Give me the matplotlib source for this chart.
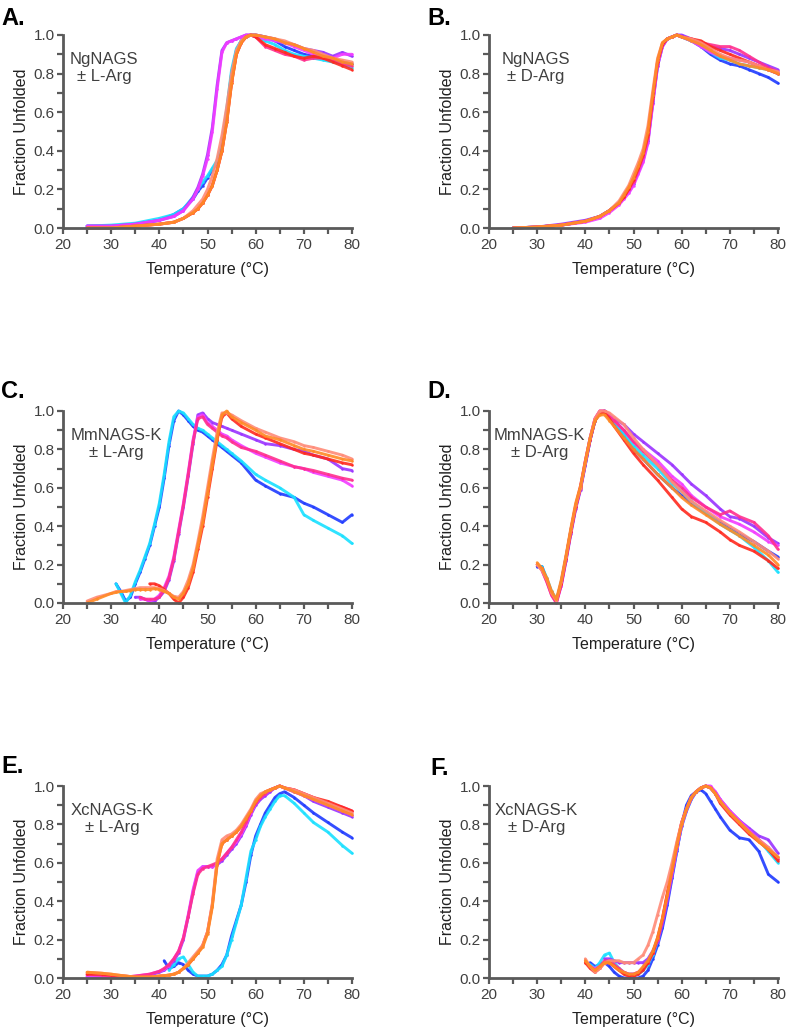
import numpy as np
import matplotlib
matplotlib.use("Agg")
import matplotlib.pyplot as plt
from matplotlib.ticker import MultipleLocator, FormatStrFormatter

plt.rcParams['font.family'] = ['Liberation Sans', 'DejaVu Sans']

nan = float('nan')

# series colours (same order in every panel)
names = ['blue', 'cyan', 'purple', 'magenta', 'pink', 'red', 'salmon', 'orange']
colors = ['#1f3bff', '#19e0ff', '#9a33ff', '#f23cff', '#ff2f8e', '#ff2a1f', '#ff8b78', '#ff8a26']

# ---- panel A / B : NgNAGS ----
t_ab = [25, 30, 35, 40, 43, 45, 47, 48, 49, 50, 51, 52, 53, 54, 55, 56, 57, 58, 59, 60,
        62, 64, 66, 68, 70, 72, 74, 76, 78, 80]

a_blue = [0.01, 0.01, 0.02, 0.04, 0.07, 0.10, 0.15, 0.19, 0.22, 0.26, 0.30, 0.34, 0.42, 0.60, 0.80,
          0.92, 0.97, 0.99, 1.00, 1.00, 0.99, 0.97, 0.94, 0.92, 0.90, 0.89, 0.88, 0.87, 0.86, 0.85]
a_cyan = [0.01, 0.015, 0.025, 0.05, 0.07, 0.10, 0.16, 0.20, 0.24, 0.27, 0.31, 0.35, 0.43, 0.62, 0.82,
          0.93, 0.97, 0.99, 1.00, 0.99, 0.97, 0.95, 0.92, 0.90, 0.89, 0.88, 0.87, 0.86, 0.85, 0.83]
a_purple = [0.01, 0.01, 0.02, 0.04, 0.06, 0.09, 0.16, 0.21, 0.28, 0.38, 0.52, 0.74, 0.92, 0.96, 0.97,
            0.98, 0.99, 1.00, 1.00, 1.00, 0.99, 0.98, 0.96, 0.95, 0.93, 0.92, 0.91, 0.89, 0.91, 0.89]
a_magenta = [0.01, 0.01, 0.02, 0.04, 0.06, 0.09, 0.15, 0.20, 0.27, 0.36, 0.50, 0.72, 0.91, 0.96, 0.97,
             0.98, 0.99, 1.00, 1.00, 0.99, 0.98, 0.97, 0.96, 0.94, 0.92, 0.90, 0.89, 0.88, 0.90, 0.90]
a_pink = [0.00, 0.00, 0.01, 0.02, 0.03, 0.05, 0.08, 0.10, 0.13, 0.17, 0.22, 0.30, 0.40, 0.56, 0.76,
          0.90, 0.96, 0.99, 1.00, 0.99, 0.94, 0.92, 0.90, 0.89, 0.87, 0.88, 0.88, 0.87, 0.85, 0.84]
a_red = [0.00, 0.00, 0.01, 0.02, 0.03, 0.05, 0.08, 0.10, 0.13, 0.17, 0.22, 0.30, 0.40, 0.55, 0.75,
         0.90, 0.96, 0.99, 1.00, 0.99, 0.95, 0.93, 0.91, 0.89, 0.88, 0.89, 0.88, 0.86, 0.84, 0.82]
a_salmon = [0.00, 0.00, 0.01, 0.02, 0.03, 0.05, 0.09, 0.12, 0.15, 0.20, 0.27, 0.36, 0.48, 0.63, 0.80,
            0.92, 0.97, 0.99, 1.00, 1.00, 0.99, 0.98, 0.97, 0.95, 0.93, 0.92, 0.90, 0.88, 0.87, 0.86]
a_orange = [0.00, 0.00, 0.01, 0.02, 0.03, 0.05, 0.08, 0.10, 0.13, 0.17, 0.22, 0.30, 0.40, 0.55, 0.75,
            0.90, 0.96, 0.99, 1.00, 1.00, 0.99, 0.98, 0.96, 0.95, 0.93, 0.91, 0.89, 0.88, 0.86, 0.85]

b_blue = [0.00, 0.005, 0.015, 0.035, 0.06, 0.09, 0.13, 0.16, 0.19, 0.23, 0.29, 0.35, 0.45, 0.65, 0.84,
          0.94, 0.98, 0.99, 1.00, 0.99, 0.97, 0.94, 0.90, 0.87, 0.85, 0.84, 0.82, 0.80, 0.78, 0.75]
b_cyan = [0.00, 0.005, 0.015, 0.035, 0.06, 0.09, 0.13, 0.16, 0.20, 0.24, 0.30, 0.36, 0.46, 0.66, 0.85,
          0.95, 0.98, 0.99, 1.00, 0.99, 0.97, 0.95, 0.91, 0.88, 0.87, 0.85, 0.84, 0.83, 0.82, 0.80]
b_purple = [0.00, 0.005, 0.02, 0.04, 0.06, 0.09, 0.13, 0.16, 0.20, 0.24, 0.30, 0.36, 0.46, 0.66, 0.85,
            0.95, 0.98, 0.99, 1.00, 1.00, 0.98, 0.96, 0.94, 0.93, 0.92, 0.90, 0.88, 0.86, 0.84, 0.82]
b_magenta = [0.00, 0.005, 0.015, 0.03, 0.05, 0.08, 0.12, 0.15, 0.18, 0.22, 0.28, 0.34, 0.44, 0.64, 0.84,
             0.94, 0.98, 0.99, 1.00, 0.99, 0.97, 0.94, 0.91, 0.89, 0.88, 0.87, 0.86, 0.84, 0.82, 0.80]
b_pink = [0.00, 0.005, 0.015, 0.035, 0.06, 0.09, 0.13, 0.16, 0.20, 0.24, 0.30, 0.37, 0.47, 0.67, 0.86,
          0.95, 0.98, 0.99, 1.00, 0.99, 0.98, 0.96, 0.95, 0.94, 0.94, 0.92, 0.89, 0.86, 0.83, 0.81]
b_red = [0.00, 0.005, 0.015, 0.035, 0.06, 0.09, 0.13, 0.16, 0.20, 0.25, 0.31, 0.38, 0.48, 0.68, 0.86,
         0.95, 0.98, 0.99, 1.00, 0.99, 0.98, 0.97, 0.94, 0.92, 0.90, 0.88, 0.86, 0.84, 0.82, 0.80]
b_salmon = [0.00, 0.005, 0.015, 0.035, 0.06, 0.09, 0.14, 0.18, 0.22, 0.28, 0.34, 0.41, 0.53, 0.71, 0.88,
            0.96, 0.98, 0.99, 1.00, 0.99, 0.98, 0.96, 0.93, 0.90, 0.88, 0.87, 0.86, 0.84, 0.82, 0.81]
b_orange = [0.00, 0.005, 0.015, 0.035, 0.06, 0.09, 0.13, 0.17, 0.21, 0.26, 0.32, 0.39, 0.50, 0.69, 0.87,
            0.96, 0.98, 0.99, 1.00, 0.99, 0.97, 0.95, 0.92, 0.89, 0.87, 0.85, 0.84, 0.83, 0.82, 0.80]

# ---- panel C : MmNAGS-K +/- L-Arg ----
t_c = [25, 27, 30, 31, 32, 33, 34, 35, 36, 37, 38, 39, 40, 41, 42, 43, 44, 45, 46, 47, 48, 49, 50,
       51, 52, 53, 54, 55, 57, 60, 62, 65, 68, 70, 72, 75, 78, 80]

c_blue = [nan, nan, nan, 0.10, 0.06, 0.01, 0.03, 0.10, 0.16, 0.23, 0.30, 0.40, 0.50, 0.65, 0.82, 0.95,
          1.00, 0.98, 0.95, 0.92, 0.90, 0.89, 0.87, 0.85, 0.83, 0.81, 0.79, 0.77, 0.73, 0.64, 0.61,
          0.57, 0.55, 0.52, 0.50, 0.46, 0.42, 0.46]
c_cyan = [nan, nan, nan, 0.10, 0.05, 0.00, 0.04, 0.11, 0.17, 0.24, 0.31, 0.41, 0.52, 0.67, 0.84, 0.97,
          1.00, 0.99, 0.96, 0.93, 0.91, 0.90, 0.88, 0.86, 0.84, 0.82, 0.80, 0.78, 0.74, 0.67, 0.64,
          0.60, 0.55, 0.46, 0.43, 0.39, 0.35, 0.31]
c_purple = [nan, nan, nan, nan, nan, nan, nan, 0.03, 0.03, 0.02, 0.01, 0.01, 0.03, 0.06, 0.12, 0.22,
            0.36, 0.50, 0.66, 0.83, 0.98, 0.99, 0.96, 0.94, 0.93, 0.92, 0.91, 0.90, 0.88, 0.85, 0.83,
            0.82, 0.80, 0.79, 0.77, 0.75, 0.70, 0.69]
c_magenta = [nan, nan, nan, nan, nan, nan, nan, nan, 0.02, 0.02, 0.01, 0.02, 0.04, 0.08, 0.14, 0.24,
             0.38, 0.52, 0.68, 0.85, 0.97, 0.98, 0.94, 0.92, 0.90, 0.88, 0.87, 0.85, 0.82, 0.78, 0.76,
             0.73, 0.71, 0.70, 0.68, 0.66, 0.64, 0.61]
c_pink = [nan, nan, nan, nan, nan, nan, nan, nan, 0.03, 0.02, 0.02, 0.02, 0.03, 0.07, 0.13, 0.23,
          0.37, 0.51, 0.67, 0.84, 0.96, 0.97, 0.93, 0.91, 0.89, 0.87, 0.86, 0.84, 0.81, 0.79, 0.77,
          0.74, 0.71, 0.70, 0.69, 0.67, 0.65, 0.64]
c_red = [nan, nan, nan, nan, nan, nan, nan, nan, nan, nan, 0.10, 0.10, 0.09, 0.07, 0.05, 0.02,
         0.00, 0.03, 0.08, 0.16, 0.28, 0.40, 0.55, 0.70, 0.85, 0.97, 0.99, 0.96, 0.92, 0.88, 0.86,
         0.83, 0.80, 0.78, 0.77, 0.75, 0.73, 0.72]
c_salmon = [0.01, 0.03, 0.05, 0.06, 0.06, 0.065, 0.07, 0.075, 0.08, 0.08, 0.08, 0.08, 0.075, 0.065,
            0.05, 0.035, 0.03, 0.06, 0.12, 0.20, 0.32, 0.45, 0.60, 0.75, 0.89, 0.99, 0.99, 0.98, 0.95,
            0.91, 0.89, 0.86, 0.84, 0.82, 0.81, 0.79, 0.77, 0.75]
c_orange = [0.00, 0.02, 0.05, 0.055, 0.06, 0.06, 0.065, 0.07, 0.07, 0.07, 0.07, 0.075, 0.07, 0.06,
            0.05, 0.03, 0.02, 0.05, 0.10, 0.18, 0.30, 0.42, 0.57, 0.72, 0.86, 0.98, 1.00, 0.97, 0.94,
            0.90, 0.87, 0.85, 0.82, 0.80, 0.79, 0.77, 0.75, 0.74]

# ---- panel D : MmNAGS-K +/- D-Arg ----
t_d = [30, 31, 32, 33, 34, 35, 36, 37, 38, 39, 40, 41, 42, 43, 44, 45, 46, 48, 50, 52, 55, 58, 60,
       62, 65, 68, 70, 72, 75, 78, 80]

d_blue = [0.19, 0.19, 0.12, 0.05, 0.01, 0.11, 0.24, 0.38, 0.50, 0.60, 0.72, 0.85, 0.95, 0.99, 1.00,
          0.97, 0.93, 0.87, 0.80, 0.75, 0.67, 0.60, 0.56, 0.52, 0.47, 0.42, 0.39, 0.36, 0.32, 0.27, 0.24]
d_cyan = [nan, 0.19, 0.13, 0.06, 0.02, 0.10, 0.23, 0.37, 0.50, 0.60, 0.73, 0.86, 0.95, 0.99, 1.00,
          0.97, 0.94, 0.88, 0.82, 0.77, 0.70, 0.62, 0.58, 0.53, 0.47, 0.41, 0.38, 0.35, 0.29, 0.22, 0.16]
d_purple = [nan, 0.18, 0.12, 0.05, 0.01, 0.09, 0.22, 0.36, 0.49, 0.59, 0.72, 0.85, 0.95, 0.99, 1.00,
            0.98, 0.96, 0.93, 0.88, 0.84, 0.78, 0.72, 0.67, 0.62, 0.56, 0.49, 0.45, 0.44, 0.40, 0.34, 0.31]
d_magenta = [nan, 0.17, 0.11, 0.04, 0.00, 0.09, 0.23, 0.37, 0.50, 0.60, 0.74, 0.86, 0.96, 1.00, 1.00,
             0.98, 0.95, 0.90, 0.84, 0.80, 0.74, 0.66, 0.62, 0.56, 0.50, 0.45, 0.43, 0.41, 0.37, 0.32, 0.30]
d_pink = [0.20, 0.17, 0.11, 0.04, 0.00, 0.10, 0.24, 0.38, 0.51, 0.61, 0.74, 0.86, 0.96, 1.00, 1.00,
          0.97, 0.95, 0.90, 0.84, 0.79, 0.72, 0.64, 0.60, 0.55, 0.50, 0.46, 0.48, 0.45, 0.42, 0.35, 0.28]
d_red = [0.20, 0.18, 0.12, 0.05, 0.01, 0.10, 0.23, 0.37, 0.50, 0.60, 0.73, 0.85, 0.95, 0.99, 0.99,
         0.96, 0.92, 0.85, 0.78, 0.72, 0.64, 0.55, 0.49, 0.45, 0.42, 0.37, 0.33, 0.30, 0.27, 0.22, 0.18]
d_salmon = [0.20, 0.17, 0.12, 0.05, 0.01, 0.11, 0.24, 0.38, 0.51, 0.60, 0.73, 0.86, 0.96, 1.00, 1.00,
            0.99, 0.97, 0.93, 0.86, 0.80, 0.72, 0.63, 0.58, 0.53, 0.48, 0.43, 0.40, 0.37, 0.32, 0.27, 0.23]
d_orange = [0.21, 0.18, 0.13, 0.06, 0.02, 0.12, 0.25, 0.39, 0.52, 0.61, 0.74, 0.86, 0.95, 0.98, 0.98,
            0.95, 0.92, 0.86, 0.80, 0.75, 0.67, 0.60, 0.55, 0.51, 0.46, 0.41, 0.38, 0.35, 0.30, 0.25, 0.20]

# ---- panel E : XcNAGS-K +/- L-Arg ----
t_e = [25, 28, 30, 33, 35, 38, 40, 41, 42, 43, 44, 45, 46, 47, 48, 49, 50, 51, 52, 53, 54, 55, 56,
       57, 58, 59, 60, 61, 62, 63, 64, 65, 66, 68, 70, 72, 75, 78, 80]

e_blue = [nan, nan, nan, nan, nan, nan, nan, 0.09, 0.05, 0.06, 0.08, 0.07, 0.04, 0.02, 0.01, 0.01,
          0.01, 0.02, 0.04, 0.07, 0.12, 0.22, 0.30, 0.38, 0.50, 0.64, 0.74, 0.80, 0.86, 0.90, 0.94,
          0.96, 0.97, 0.94, 0.90, 0.86, 0.81, 0.76, 0.73]
e_cyan = [nan, nan, nan, nan, nan, nan, nan, nan, 0.04, 0.07, 0.10, 0.11, 0.07, 0.03, 0.01, 0.01,
          0.01, 0.02, 0.04, 0.06, 0.12, 0.20, 0.29, 0.38, 0.52, 0.66, 0.72, 0.79, 0.84, 0.88, 0.92,
          0.95, 0.95, 0.91, 0.86, 0.81, 0.76, 0.69, 0.65]
e_purple = [0.01, 0.005, 0.005, 0.005, 0.005, 0.015, 0.03, 0.04, 0.06, 0.09, 0.13, 0.20, 0.32, 0.45,
            0.55, 0.58, 0.58, 0.58, 0.59, 0.61, 0.64, 0.67, 0.70, 0.74, 0.79, 0.85, 0.90, 0.93, 0.95,
            0.97, 0.99, 1.00, 0.99, 0.97, 0.95, 0.92, 0.89, 0.86, 0.84]
e_magenta = [0.01, 0.01, 0.005, 0.005, 0.01, 0.02, 0.035, 0.045, 0.065, 0.10, 0.14, 0.21, 0.33, 0.46,
             0.56, 0.58, 0.58, 0.58, 0.60, 0.62, 0.65, 0.68, 0.71, 0.75, 0.80, 0.86, 0.91, 0.94, 0.96,
             0.98, 0.99, 1.00, 0.99, 0.97, 0.95, 0.93, 0.90, 0.87, 0.85]
e_pink = [0.02, 0.015, 0.01, 0.005, 0.01, 0.02, 0.035, 0.05, 0.07, 0.10, 0.14, 0.21, 0.32, 0.44,
          0.54, 0.57, 0.58, 0.59, 0.60, 0.62, 0.65, 0.68, 0.72, 0.76, 0.81, 0.87, 0.91, 0.94, 0.96,
          0.98, 0.99, 1.00, 0.99, 0.98, 0.96, 0.94, 0.91, 0.89, 0.87]
e_red = [0.02, 0.02, 0.015, 0.01, 0.005, 0.005, 0.01, 0.012, 0.015, 0.02, 0.03, 0.05, 0.07, 0.10,
         0.13, 0.17, 0.24, 0.38, 0.60, 0.70, 0.72, 0.74, 0.76, 0.79, 0.83, 0.87, 0.92, 0.95, 0.97,
         0.98, 0.99, 1.00, 0.99, 0.98, 0.96, 0.94, 0.92, 0.89, 0.87]
e_salmon = [0.03, 0.025, 0.02, 0.01, 0.005, 0.005, 0.01, 0.012, 0.015, 0.02, 0.03, 0.05, 0.08, 0.11,
            0.14, 0.17, 0.24, 0.39, 0.62, 0.72, 0.74, 0.75, 0.77, 0.80, 0.84, 0.88, 0.93, 0.96, 0.97,
            0.98, 0.99, 1.00, 0.99, 0.98, 0.96, 0.94, 0.91, 0.88, 0.86]
e_orange = [0.03, 0.025, 0.02, 0.01, 0.005, 0.005, 0.01, 0.012, 0.015, 0.02, 0.03, 0.05, 0.07, 0.10,
            0.13, 0.16, 0.23, 0.37, 0.59, 0.70, 0.72, 0.74, 0.76, 0.79, 0.83, 0.87, 0.92, 0.95, 0.97,
            0.98, 0.99, 1.00, 0.99, 0.97, 0.95, 0.93, 0.90, 0.87, 0.85]

# ---- panel F : XcNAGS-K +/- D-Arg ----
t_f = [40, 41, 42, 43, 44, 45, 46, 47, 48, 49, 50, 51, 52, 53, 54, 55, 56, 57, 58, 59, 60, 61, 62,
       63, 64, 65, 66, 67, 68, 70, 72, 74, 76, 78, 80]

f_blue = [nan, 0.08, 0.06, 0.07, 0.08, 0.06, 0.03, 0.01, 0.00, 0.00, 0.00, 0.00, 0.01, 0.04, 0.10,
          0.17, 0.26, 0.38, 0.52, 0.66, 0.80, 0.90, 0.95, 0.97, 0.98, 0.96, 0.92, 0.88, 0.84, 0.77,
          0.73, 0.72, 0.66, 0.54, 0.50]
f_cyan = [nan, 0.07, 0.05, 0.08, 0.12, 0.13, 0.08, 0.05, 0.03, 0.02, 0.02, 0.02, 0.04, 0.07, 0.12,
          0.19, 0.29, 0.41, 0.54, 0.67, 0.79, 0.87, 0.93, 0.97, 0.99, 1.00, 0.99, 0.96, 0.92, 0.86,
          0.82, 0.77, 0.72, 0.66, 0.60]
f_purple = [nan, nan, nan, nan, 0.10, 0.10, 0.09, 0.08, 0.08, 0.08, 0.08, 0.08, 0.08, 0.10, 0.14,
            0.19, 0.28, 0.40, 0.53, 0.67, 0.79, 0.87, 0.93, 0.97, 0.99, 1.00, 0.99, 0.97, 0.93, 0.87,
            0.82, 0.78, 0.74, 0.72, 0.65]
f_magenta = [nan, 0.06, 0.05, 0.06, 0.08, 0.08, 0.06, 0.04, 0.03, 0.02, 0.02, 0.03, 0.05, 0.08, 0.13,
             0.20, 0.30, 0.42, 0.55, 0.68, 0.80, 0.88, 0.94, 0.97, 0.99, 1.00, 1.00, 0.97, 0.93, 0.87,
             0.82, 0.77, 0.72, 0.68, 0.62]
f_pink = [0.09, 0.06, 0.04, 0.06, 0.09, 0.09, 0.07, 0.05, 0.03, 0.02, 0.02, 0.03, 0.05, 0.08, 0.13,
          0.20, 0.30, 0.43, 0.56, 0.69, 0.81, 0.88, 0.94, 0.97, 0.99, 1.00, 0.99, 0.96, 0.92, 0.86,
          0.81, 0.76, 0.72, 0.67, 0.62]
f_red = [0.08, 0.05, 0.03, 0.05, 0.08, 0.08, 0.06, 0.04, 0.02, 0.01, 0.01, 0.02, 0.04, 0.08, 0.13,
         0.21, 0.31, 0.44, 0.57, 0.70, 0.81, 0.88, 0.94, 0.97, 0.99, 1.00, 0.99, 0.96, 0.91, 0.85,
         0.80, 0.75, 0.71, 0.67, 0.61]
f_salmon = [0.10, 0.06, 0.03, 0.05, 0.08, 0.09, 0.09, 0.09, 0.08, 0.08, 0.08, 0.10, 0.12, 0.17, 0.24,
            0.33, 0.42, 0.50, 0.60, 0.71, 0.81, 0.88, 0.94, 0.97, 0.99, 1.00, 0.99, 0.96, 0.92, 0.86,
            0.81, 0.76, 0.72, 0.68, 0.63]
f_orange = [0.09, 0.06, 0.04, 0.06, 0.08, 0.08, 0.06, 0.04, 0.03, 0.02, 0.02, 0.03, 0.06, 0.09, 0.14,
            0.21, 0.31, 0.43, 0.56, 0.69, 0.80, 0.88, 0.94, 0.97, 0.99, 1.00, 0.99, 0.96, 0.92, 0.86,
            0.81, 0.76, 0.71, 0.67, 0.63]

panels = [
    ('A.', 'NgNAGS\n± L-Arg', t_ab, [a_blue, a_cyan, a_purple, a_magenta, a_pink, a_red, a_salmon, a_orange]),
    ('B.', 'NgNAGS\n± D-Arg', t_ab, [b_blue, b_cyan, b_purple, b_magenta, b_pink, b_red, b_salmon, b_orange]),
    ('C.', 'MmNAGS-K\n± L-Arg', t_c, [c_blue, c_cyan, c_purple, c_magenta, c_pink, c_red, c_salmon, c_orange]),
    ('D.', 'MmNAGS-K\n± D-Arg', t_d, [d_blue, d_cyan, d_purple, d_magenta, d_pink, d_red, d_salmon, d_orange]),
    ('E.', 'XcNAGS-K\n± L-Arg', t_e, [e_blue, e_cyan, e_purple, e_magenta, e_pink, e_red, e_salmon, e_orange]),
    ('F.', 'XcNAGS-K\n± D-Arg', t_f, [f_blue, f_cyan, f_purple, f_magenta, f_pink, f_red, f_salmon, f_orange]),
]

W, H = 787, 1030
fig = plt.figure(figsize=(W / 100, H / 100), dpi=100)

# axes boxes in pixels: (left, top, right, bottom)
boxes = [(63, 35, 352, 228), (489, 35, 778, 228),
         (63, 411, 352, 603), (489, 411, 778, 603),
         (63, 786, 352, 978), (489, 786, 778, 978)]
letter_pos = [(1, 25), (427, 25), (1, 398), (427, 398), (1, 773), (430, 775)]
text_x = [0.142, 0.163, 0.183, 0.176, 0.171, 0.164]

axis_col = '#5a5a5a'
text_col = '#404040'

for i, (letter, note, temps, series) in enumerate(panels):
    l, t, r, b = boxes[i]
    ax = fig.add_axes([l / W, 1 - b / H, (r - l) / W, (b - t) / H])
    for vals, c in zip(series, colors):
        ax.plot(temps, vals, color=c, lw=2.1, alpha=0.9, clip_on=False,
                marker='o', ms=1.8, mew=0, solid_capstyle='round')
    ax.set_xlim(20, 80)
    ax.set_ylim(0, 1.0)
    for s in ['top', 'right']:
        ax.spines[s].set_visible(False)
    for s in ['left', 'bottom']:
        ax.spines[s].set_color(axis_col)
        ax.spines[s].set_linewidth(2.0)
    ax.xaxis.set_major_locator(MultipleLocator(10))
    ax.xaxis.set_minor_locator(MultipleLocator(5))
    ax.yaxis.set_major_locator(MultipleLocator(0.2))
    ax.yaxis.set_minor_locator(MultipleLocator(0.1))
    ax.yaxis.set_major_formatter(FormatStrFormatter('%.1f'))
    ax.tick_params(which='both', direction='out', color=axis_col, width=1.6,
                   labelsize=11, labelcolor=text_col, pad=2)
    ax.tick_params(axis='x', which='major', pad=3.5)
    ax.tick_params(which='major', length=4)
    ax.tick_params(which='minor', length=4)
    ax.set_xlabel('Temperature (°C)', fontsize=11.5, color='#202020', labelpad=7)
    ax.set_ylabel('Fraction Unfolded', fontsize=11.5, color='#202020', labelpad=3)
    ax.text(text_x[i], 0.83, note, transform=ax.transAxes, ha='center', va='center',
            multialignment='center', fontsize=12, color=text_col, linespacing=1.15)
    lx, ly = letter_pos[i]
    fig.text(lx / W, 1 - ly / H, letter, fontsize=17, fontweight='bold', color='black',
             va='baseline', ha='left')

fig.savefig('out.png', dpi=100)
